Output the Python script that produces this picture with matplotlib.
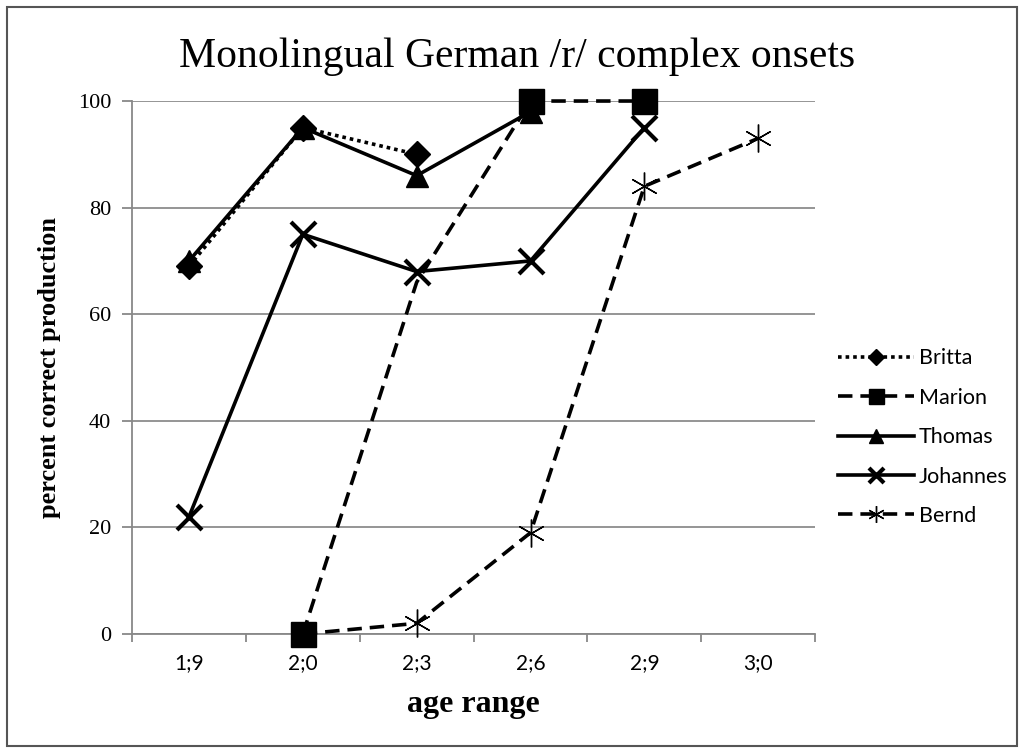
import numpy as np
import matplotlib
matplotlib.use("Agg")
import matplotlib.pyplot as plt
from matplotlib.patches import Rectangle

ages = ["1;9", "2;0", "2;3", "2;6", "2;9", "3;0"]
britta = [69, 95, 90, np.nan, np.nan, np.nan]
marion = [np.nan, 0, 66, 100, 100, np.nan]
thomas = [70, 95, 86, 98, np.nan, np.nan]
johannes = [22, 75, 68, 70, 95, np.nan]
bernd = [np.nan, 0, 2, 19, 84, 93]

fig = plt.figure(figsize=(10.24, 7.5), dpi=100)
ax = fig.add_axes([0.129, 0.1547, 0.667, 0.7106])

x = np.arange(len(ages))
lw = 2.6
dash = (0, (4, 2.2))

common = dict(color="black", lw=lw, clip_on=False)
ax.plot(x, britta, ls=(0, (1, 1.1)), marker="D", ms=13, label="Britta", zorder=3, **common)
ax.plot(x, marion, ls=dash, marker="s", ms=18, markevery=[1, 3, 4], label="Marion", zorder=3, **common)
ax.plot(x, thomas, ls="-", marker="^", ms=16, label="Thomas", zorder=4, **common)
ax.plot(x, johannes, ls="-", marker="x", ms=18, mew=3, label="Johannes", zorder=3, **common)
ax.plot(x, bernd, ls=dash, marker=(6, 2, 0), ms=20, mew=1.0, markevery=[2, 3, 4, 5], label="Bernd", zorder=3, **common)

ax.set_xlim(-0.5, 5.5)
ax.set_ylim(0, 100)
ax.set_yticks([0, 20, 40, 60, 80, 100])
ax.set_xticks(x)
ax.set_xticklabels(ages, family="Lato", fontsize=15)
ax.set_xticks(np.arange(-0.5, 6, 1), minor=True)
ax.tick_params(axis="x", which="major", length=0, pad=14)
ax.tick_params(axis="x", which="minor", length=6, color="#888888", width=1.3, direction="out")
ax.tick_params(axis="y", length=7, color="#888888", width=1.3, pad=8)
for lab in ax.get_yticklabels():
    lab.set_family("Liberation Serif")
    lab.set_fontsize(16)

ax.yaxis.grid(True, color="#8c8c8c", lw=1.3)
ax.set_axisbelow(True)
for s in ["top", "right"]:
    ax.spines[s].set_visible(False)
for s in ["left", "bottom"]:
    ax.spines[s].set_color("#888888")
    ax.spines[s].set_linewidth(1.3)

ax.set_ylabel("percent correct production", family="Liberation Serif", fontweight="bold", fontsize=19, labelpad=12)
ax.set_xlabel("age range", family="Liberation Serif", fontweight="bold", fontsize=23, labelpad=12)
fig.text(0.505, 0.925, "Monolingual German /r/ complex onsets", family="Liberation Serif", fontsize=30, ha="center", va="center")

handles, labels = ax.get_legend_handles_labels()
leg = fig.legend(handles, labels, loc="center left", bbox_to_anchor=(0.808, 0.417), frameon=False,
                 prop={"family": "Lato", "size": 15.5}, handlelength=3.5, handletextpad=0.25,
                 labelspacing=0.9, markerscale=0.6, borderpad=0)

fig.patches.append(Rectangle((0.007, 0.005), 0.986, 0.986, transform=fig.transFigure, fill=False,
                             edgecolor="#555555", lw=1.5))

fig.savefig("out.png", dpi=100)
